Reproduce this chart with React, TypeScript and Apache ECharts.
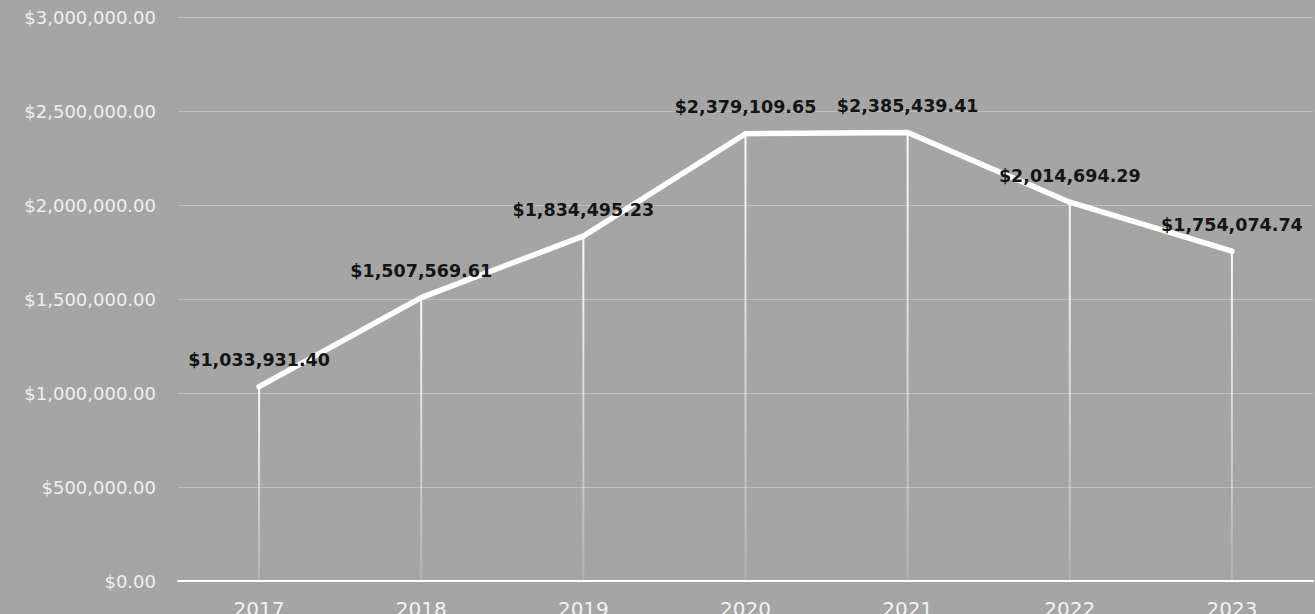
import React, { useEffect, useRef } from "react";
import * as echarts from "echarts";

const years = ["2017", "2018", "2019", "2020", "2021", "2022", "2023"];
const values = [1033931.4, 1507569.61, 1834495.23, 2379109.65, 2385439.41, 2014694.29, 1754074.74];
const yTicks = [0, 500000, 1000000, 1500000, 2000000, 2500000, 3000000];

const fmt = (v: number) =>
  "$" + v.toLocaleString("en-US", { minimumFractionDigits: 2, maximumFractionDigits: 2 });

export default function App() {
  const ref = useRef<HTMLDivElement>(null);
  useEffect(() => {
    if (!ref.current) return;
    const chart = echarts.init(ref.current, null, { renderer: "svg" });
    chart.setOption({
      animation: false,
      backgroundColor: "#a5a5a5",
      grid: {
        left: 178,
        right: 2,
        top: 17,
        bottom: 33,
        containLabel: false,
        outerBoundsMode: "none",
      },
      xAxis: {
        type: "category",
        data: years,
        boundaryGap: true,
        axisLine: { show: true, lineStyle: { color: "#ffffff", width: 2 } },
        axisTick: { show: false },
        axisLabel: {
          color: "#f2f2f2",
          fontFamily: "DejaVu Sans",
          fontSize: 20,
          margin: 18,
        },
        splitLine: { show: false },
      },
      yAxis: {
        type: "value",
        min: yTicks[0],
        max: yTicks[yTicks.length - 1],
        interval: 500000,
        axisLine: { show: false },
        axisTick: { show: false },
        axisLabel: {
          color: "#efefef",
          fontFamily: "DejaVu Sans",
          fontSize: 18,
          margin: 22,
          formatter: (v: number) => fmt(v),
        },
        splitLine: { show: true, lineStyle: { color: "#bfbfbf", width: 1 } },
      },
      series: [
        {
          type: "bar",
          data: values,
          barWidth: 2,
          silent: true,
          itemStyle: {
            color: {
              type: "linear",
              x: 0,
              y: 0,
              x2: 0,
              y2: 1,
              colorStops: [
                { offset: 0, color: "rgba(255,255,255,0.95)" },
                { offset: 1, color: "rgba(255,255,255,0.15)" },
              ],
            },
          },
          z: 1,
        },
        {
          type: "line",
          data: values,
          symbol: "circle",
          symbolSize: 5,
          itemStyle: { color: "#ffffff" },
          lineStyle: { color: "#ffffff", width: 5.5, cap: "round", join: "round" },
          label: {
            show: true,
            position: "top",
            distance: 15,
            color: "#141414",
            fontFamily: "DejaVu Sans",
            fontWeight: "bold",
            fontSize: 17.5,
            formatter: (p: any) => fmt(p.value),
          },
          z: 3,
        },
      ],
    });
    return () => chart.dispose();
  }, []);
  return (
    <div
      ref={ref}
      style={{ position: "absolute", left: 0, top: 0, width: 1315, height: 614 }}
    />
  );
}
